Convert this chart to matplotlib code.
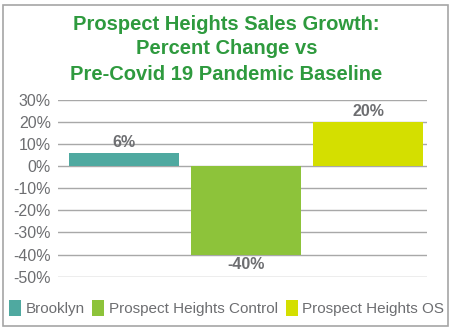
import matplotlib
matplotlib.use("Agg")
import matplotlib.pyplot as plt
from matplotlib.patches import Rectangle, Patch
from matplotlib.ticker import FuncFormatter, MultipleLocator

series = ["Brooklyn", "Prospect Heights Control", "Prospect Heights OS"]
values = [6, -40, 20]
labels = ["6%", "-40%", "20%"]
colors = ["#4FA9A0", "#8DC33A", "#D4DF00"]
title = "Prospect Heights Sales Growth:\nPercent Change vs\nPre-Covid 19 Pandemic Baseline"

plt.rcParams['font.family'] = ['Liberation Sans', 'DejaVu Sans']

fig = plt.figure(figsize=(4.53, 3.30), dpi=100)
fig.patch.set_facecolor("white")
# outer border
fig.add_artist(Rectangle((3/453, 4/330), 445/453, 321/330, transform=fig.transFigure,
                         fill=False, edgecolor="#a6a6a6", lw=1.2))

ax = fig.add_axes([58/453, 1-276.7/330, 369/453, 177.2/330])
ax.set_ylim(-50, 30)
ax.set_xlim(-0.54, 2.48)
ax.yaxis.set_major_locator(MultipleLocator(10))
ax.yaxis.set_major_formatter(FuncFormatter(lambda v, p: f"{int(round(v))}%"))
ax.grid(axis="y", color="#a8a8a8", lw=1.0)
ax.set_axisbelow(True)
for s in ax.spines.values():
    s.set_visible(False)
ax.tick_params(axis="y", length=0, pad=5, labelsize=11.5, labelcolor="#6d6e71")
ax.set_xticks([])

xs = list(range(len(values)))
bars = ax.bar(xs, values, width=0.9, color=colors, zorder=2)
for x, v, lab in zip(xs, values, labels):
    if v >= 0:
        ax.text(x, v + 1.2, lab, ha="center", va="bottom", fontsize=11.5,
                fontweight="bold", color="#6d6e71")
    else:
        ax.text(x, v - 1.2, lab, ha="center", va="top", fontsize=11.5,
                fontweight="bold", color="#6d6e71")

fig.text(0.5, 1-49/330, title, ha="center", va="center", fontsize=14.5,
         fontweight="bold", color="#2E9A3E", linespacing=1.4)

handles = [Patch(facecolor=c, edgecolor="none") for c in colors]
fig.legend(handles, series, loc="center", bbox_to_anchor=(0.5, 1-308/330), ncol=3,
           frameon=False, fontsize=11, handlelength=0.8, handleheight=1.3,
           handletextpad=0.3, columnspacing=0.5, labelcolor="#6d6e71")

fig.savefig("out.png", dpi=100, facecolor="white")
